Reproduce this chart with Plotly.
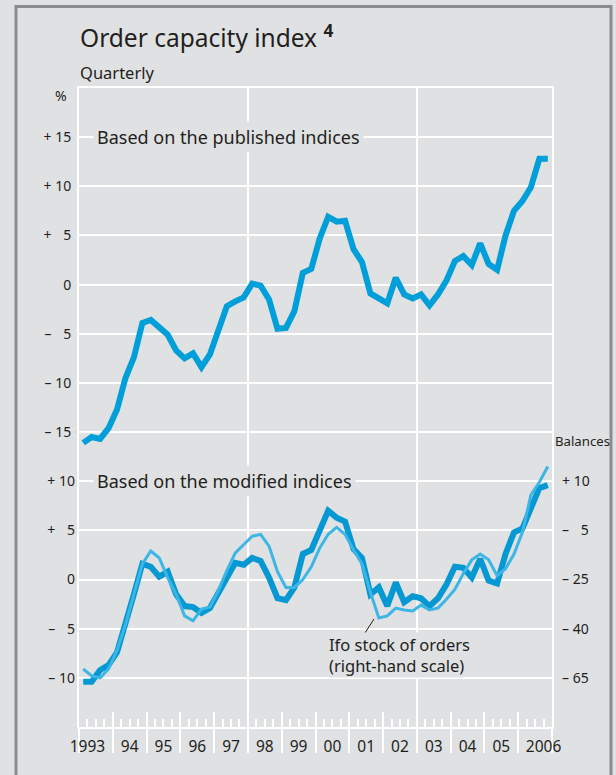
import plotly.graph_objects as go

# quarterly observations 1993 Q1 - 2006 Q4
years = list(range(1993, 2007))
quarters = [y + (q - 0.5) / 4 for y in years for q in range(1, 5)]

# order capacity index, based on published indices (%)
published = [
    -16.1, -15.5, -15.7, -14.6,
    -12.7, -9.5, -7.4, -3.9,
    -3.6, -4.4, -5.1, -6.7,
    -7.5, -7.0, -8.4, -7.1,
    -4.7, -2.2, -1.7, -1.3,
    0.1, -0.1, -1.5, -4.5,
    -4.4, -2.7, 1.2, 1.6,
    4.7, 6.9, 6.4, 6.5,
    3.6, 2.3, -0.9, -1.4,
    -1.9, 0.7, -1.0, -1.4,
    -1.0, -2.1, -1.0, 0.4,
    2.4, 2.9, 2.0, 4.2,
    2.1, 1.5, 5.0, 7.5,
    8.5, 9.9, 12.8, 12.8,
]

# order capacity index, based on modified indices (%)
modified = [
    -10.4, -10.4, -9.2, -8.7,
    -7.4, -4.7, -1.5, 1.6,
    1.3, 0.3, 0.8, -1.5,
    -2.7, -2.8, -3.4, -2.9,
    -1.4, 0.3, 1.7, 1.5,
    2.2, 1.9, 0.2, -1.9,
    -2.1, -0.8, 2.6, 3.0,
    4.9, 7.0, 6.3, 5.9,
    3.1, 2.2, -1.5, -0.8,
    -2.7, -0.3, -2.3, -1.7,
    -1.9, -2.7, -1.9, -0.5,
    1.3, 1.2, 0.2, 2.1,
    -0.1, -0.4, 2.6, 4.8,
    5.2, 7.2, 9.3, 9.6,
]

# Ifo stock of orders, in units of the chart's right-hand scale position
ifo_stock = [
    -9.1, -9.8, -10.0, -9.1,
    -7.2, -4.6, -1.5, 1.6,
    2.9, 2.2, 0.2, -1.5,
    -3.7, -4.2, -3.0, -2.8,
    -1.1, 0.9, 2.7, 3.6,
    4.4, 4.6, 3.4, 0.8,
    -0.8, -0.8, 0.0, 1.3,
    3.2, 4.6, 5.3, 4.6,
    3.0, 1.6, -1.3, -3.9,
    -3.7, -2.9, -3.1, -3.2,
    -2.6, -3.1, -2.9, -2.0,
    -1.0, 0.6, 2.0, 2.6,
    2.0, 0.4, 1.1, 2.6,
    4.8, 8.6, 9.9, 11.5,
]

year_labels = ["1993", "94", "95", "96", "97", "98", "99", "00",
               "01", "02", "03", "04", "05", "2006"]
# label positions: mid-year, the four-digit end labels pushed outwards
label_pos = [1993.25] + [y + 0.5 for y in years[1:-1]] + [2006.75]

top_ticks = [15, 10, 5, 0, -5, -10, -15, -20, -25, -30, -35, -40]
top_text = ["+ 15", "+ 10", "+ \u20075", "0", "\u2013 \u20075", "\u2013 10", "\u2013 15",
            " ", " ", " ", " ", " "]
low_ticks = [10, 5, 0, -5, -10]
low_text = ["+ 10", "+ \u20075", "0", "\u2013 \u20075", "\u2013 10"]
right_text = ["+ 10", "\u2013 \u20075", "\u2013 25", "\u2013 40", "\u2013 65"]

BG = "#e0e1e3"
TXT = "#231f20"
FONT = "Noto Sans"

# plot area in pixels
L, R, T, B = 79, 552, 88, 727


def px_x(px):
    return (px - L) / (R - L)


def px_y(py):
    return (B - py) / (B - T)


fig = go.Figure()
fig.add_trace(go.Scatter(x=quarters, y=published, mode="lines",
                         line=dict(color="#009fd9", width=6), yaxis="y"))
fig.add_trace(go.Scatter(x=quarters, y=ifo_stock, mode="lines",
                         line=dict(color="#3db6e6", width=3), yaxis="y3"))
fig.add_trace(go.Scatter(x=quarters, y=modified, mode="lines",
                         line=dict(color="#0698d2", width=6), yaxis="y2"))

xr = [1993, 2007]
year_starts = list(range(1993, 2008))
quarter_marks = [y + q / 4 for y in years for q in (1, 2, 3)]

fig.update_layout(
    width=616, height=775,
    margin=dict(l=L, r=616 - R, t=T, b=775 - B),
    paper_bgcolor=BG, plot_bgcolor=BG,
    font=dict(family=FONT, color=TXT, size=14),
    showlegend=False,
    xaxis=dict(range=xr, tickmode="array", tickvals=year_starts, ticks="inside",
               ticklen=15, tickwidth=2, tickcolor="white", showticklabels=False,
               showgrid=False, zeroline=False, showline=True, linecolor="white",
               linewidth=2, mirror=True,
               minor=dict(tickmode="array", tickvals=quarter_marks, ticks="inside",
                          ticklen=8, tickwidth=1.5, tickcolor="white", showgrid=False)),
    xaxis2=dict(range=xr, overlaying="x", anchor="y", tickmode="array",
                tickvals=year_starts, ticks="outside", ticklen=25, tickwidth=2,
                tickcolor="white", showticklabels=False, showgrid=False,
                zeroline=False, showline=False),
    xaxis3=dict(range=xr, overlaying="x", anchor="y", tickmode="array",
                tickvals=label_pos, ticktext=year_labels, ticks="",
                showgrid=False, zeroline=False, showline=False,
                tickfont=dict(size=15.5), ticklabelstandoff=8),
    xaxis4=dict(range=xr, overlaying="x", anchor="y", tickmode="array",
                tickvals=[1998, 2003], ticks="", showticklabels=False,
                showgrid=True, gridcolor="white", gridwidth=2, zeroline=False,
                showline=False),
    yaxis=dict(range=[-45, 20], tickmode="array", tickvals=top_ticks,
               ticktext=top_text, ticks="", showgrid=True, gridcolor="white",
               gridwidth=2, zeroline=False, showline=True, linecolor="white",
               linewidth=2, mirror=True, ticklabelstandoff=3),
    yaxis2=dict(range=[-15, 50], overlaying="y", side="left", tickmode="array",
                tickvals=low_ticks, ticktext=low_text, ticks="", showgrid=False,
                zeroline=False, showline=False, ticklabelstandoff=3),
    yaxis3=dict(range=[-15, 50], overlaying="y", side="right", tickmode="array",
                tickvals=low_ticks, ticktext=right_text, ticks="", showgrid=False,
                zeroline=False, showline=False, ticklabelstandoff=9),
)

# invisible helpers so the overlaid x axes are drawn
for ax in ("x2", "x3", "x4"):
    fig.add_trace(go.Scatter(x=[1993], y=[0], xaxis=ax, yaxis="y", mode="markers",
                             marker=dict(opacity=0), hoverinfo="skip"))

fig.add_annotation(text="Order capacity index <sup><b>4</b></sup>", xref="paper", yref="paper",
                   x=px_x(78), y=px_y(37), xanchor="left", yanchor="middle",
                   showarrow=False, font=dict(size=24.5))
fig.add_annotation(text="Quarterly", xref="paper", yref="paper",
                   x=px_x(78), y=px_y(72), xanchor="left", yanchor="middle",
                   showarrow=False, font=dict(size=16.5))
fig.add_annotation(text="%", xref="paper", yref="paper",
                   x=px_x(69), y=px_y(95), xanchor="right", yanchor="middle",
                   showarrow=False, font=dict(size=14))
fig.add_annotation(text="Balances", xref="paper", yref="paper",
                   x=px_x(553), y=px_y(441), xanchor="left", yanchor="middle",
                   showarrow=False, font=dict(size=13.2))
fig.add_annotation(text="Based on the published indices", xref="paper", yref="paper",
                   x=px_x(93), y=px_y(137), xanchor="left", yanchor="middle",
                   showarrow=False, font=dict(size=18), bgcolor=BG, borderpad=3)
fig.add_annotation(text="Based on the modified indices", xref="paper", yref="paper",
                   x=px_x(93), y=px_y(481), xanchor="left", yanchor="middle",
                   showarrow=False, font=dict(size=18), bgcolor=BG, borderpad=3)
for line_text, yy in (("Ifo stock of orders", 644), ("(right-hand scale)", 665)):
    fig.add_annotation(text=line_text, xref="paper", yref="paper",
                       x=px_x(328), y=px_y(yy), xanchor="left", yanchor="middle",
                       showarrow=False, font=dict(size=16.5), bgcolor=BG, borderpad=0)

# leader line to the Ifo series
fig.add_shape(type="line", xref="paper", yref="paper",
              x0=px_x(365), y0=px_y(633), x1=px_x(374), y1=px_y(619),
              line=dict(color=TXT, width=1))
# outer frame of the panel
fig.add_shape(type="rect", xref="paper", yref="paper", layer="below",
              x0=px_x(16), y0=px_y(6.5), x1=px_x(611), y1=px_y(790),
              line=dict(color="#8b8c8e", width=3))

# page body without its default margin, so the figure sits at the window origin
fig.write_html("out.html", config={"displayModeBar": False},
               post_script="document.body.style.margin='0';")
